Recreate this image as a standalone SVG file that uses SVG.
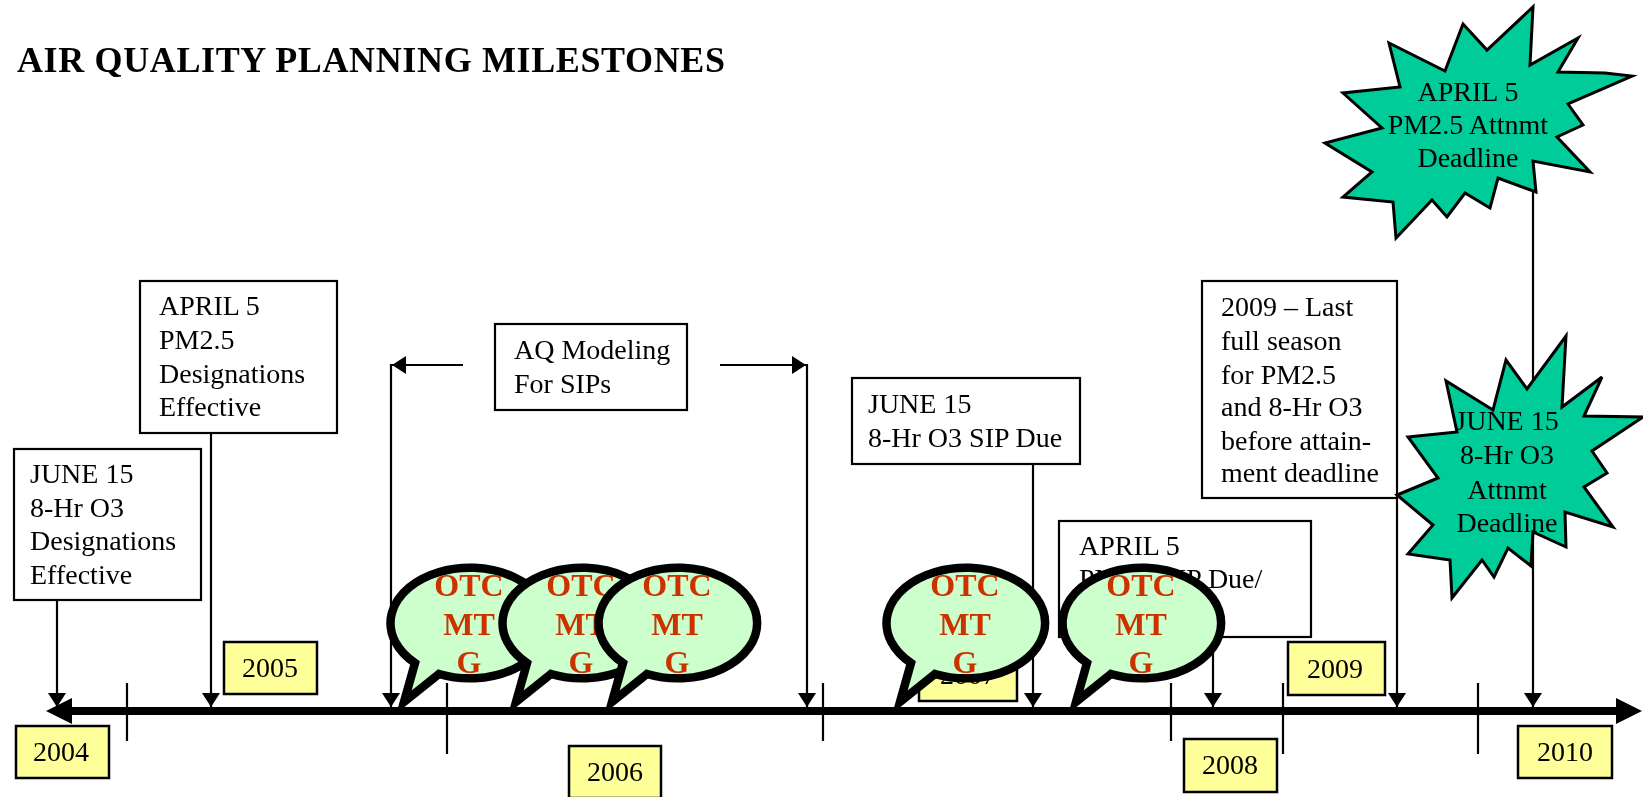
<svg xmlns="http://www.w3.org/2000/svg" width="1643" height="797" viewBox="0 0 1643 797">
<style>
text{font-family:"Liberation Serif","Times New Roman",serif;font-size:28px;fill:#000}
.box{fill:#fff;stroke:#000;stroke-width:2.2}
.yr{fill:#FFFF99;stroke:#000;stroke-width:2.5}
.ctr{text-anchor:middle}
.burst{fill:#00CC99;stroke:#000;stroke-width:3;stroke-linejoin:miter}
.conn{fill:none;stroke:#000;stroke-width:2.2}
.tick{fill:none;stroke:#000;stroke-width:2.2}
.otc{font-weight:bold;font-size:32px;fill:#CC3300;text-anchor:middle}
.title{font-weight:bold;font-size:36px;fill:#000}
</style>
<defs>
<filter id="soft" filterUnits="userSpaceOnUse" x="0" y="0" width="1643" height="797"><feGaussianBlur stdDeviation="0.45"/></filter>
<marker id="ah" markerUnits="userSpaceOnUse" markerWidth="16" markerHeight="20" refX="14" refY="9" orient="auto"><path d="M0,0L14,9L0,18Z" fill="#000"/></marker>
<marker id="big" markerUnits="userSpaceOnUse" markerWidth="28" markerHeight="28" refX="4" refY="14" orient="auto-start-reverse"><path d="M0,1L26,14L0,27Z" fill="#000"/></marker>
<path id="bub" d="M29,100 A79.3,55.3 0 1 1 53,111 L18,139 Z" fill="#CCFFCC" stroke="#000" stroke-width="8.5" stroke-linejoin="miter" stroke-miterlimit="10"/>
</defs>
<g filter="url(#soft)">
<text class="title" x="17" y="72" textLength="708" lengthAdjust="spacing">AIR QUALITY PLANNING MILESTONES</text>
<g id="connectors">
<line class="conn" x1="57" y1="600" x2="57" y2="707" marker-end="url(#ah)"/>
<line class="conn" x1="211" y1="433" x2="211" y2="707" marker-end="url(#ah)"/>
<line class="conn" x1="391" y1="364" x2="391" y2="707" marker-end="url(#ah)"/>
<line class="conn" x1="807" y1="364" x2="807" y2="707" marker-end="url(#ah)"/>
<line class="conn" x1="463" y1="365" x2="392" y2="365" marker-end="url(#ah)"/>
<line class="conn" x1="720" y1="365" x2="806" y2="365" marker-end="url(#ah)"/>
<line class="conn" x1="1033" y1="464" x2="1033" y2="707" marker-end="url(#ah)"/>
<line class="conn" x1="1213" y1="637" x2="1213" y2="707" marker-end="url(#ah)"/>
<line class="conn" x1="1397" y1="498" x2="1397" y2="707" marker-end="url(#ah)"/>
<line class="conn" x1="1533" y1="190" x2="1533" y2="707" marker-end="url(#ah)"/>
<line x1="68" y1="711" x2="1620" y2="711" stroke="#000" stroke-width="8" marker-start="url(#big)" marker-end="url(#big)"/>
<path class="tick" d="M127,683V741M447,683V754M823,683V741M1171,683V741M1283,683V754M1478,683V754"/>
</g>
<g id="box-june-designations"><rect class="box" x="14" y="449" width="187" height="151"/><text x="30" y="483">JUNE 15</text><text x="30" y="517">8-Hr O3</text><text x="30" y="550">Designations</text><text x="30" y="584">Effective</text></g>
<g id="box-april-designations"><rect class="box" x="140" y="281" width="197" height="152"/><text x="159" y="315">APRIL 5</text><text x="159" y="349">PM2.5</text><text x="159" y="383">Designations</text><text x="159" y="416">Effective</text></g>
<g id="box-aq-modeling"><rect class="box" x="495" y="324" width="192" height="86"/><text x="514" y="359">AQ Modeling</text><text x="514" y="393">For SIPs</text></g>
<g id="box-june-sip"><rect class="box" x="852" y="378" width="228" height="86"/><text x="868" y="413">JUNE 15</text><text x="868" y="447">8-Hr O3 SIP Due</text></g>
<g id="box-2009-last"><rect class="box" x="1202" y="281" width="195" height="217"/><text x="1221" y="316">2009 – Last</text><text x="1221" y="350">full season</text><text x="1221" y="384">for PM2.5</text><text x="1221" y="416">and 8-Hr O3</text><text x="1221" y="450">before attain-</text><text x="1221" y="482">ment deadline</text></g>
<g id="box-april-sip"><rect class="box" x="1059" y="521" width="252" height="116"/><text x="1079" y="555">APRIL 5</text><text x="1079" y="588">PM2.5 SIP Due/</text></g>
<g id="year-2004"><rect class="yr" x="16" y="726" width="93" height="52"/><text class="ctr" x="61" y="761">2004</text></g>
<g id="year-2005"><rect class="yr" x="224" y="642" width="93" height="52"/><text class="ctr" x="270" y="677">2005</text></g>
<g id="year-2006"><rect class="yr" x="569" y="746" width="92" height="52"/><text class="ctr" x="615" y="781">2006</text></g>
<g id="year-2007"><rect class="yr" x="919" y="649" width="98" height="52"/><text class="ctr" x="968" y="684">2007</text></g>
<g id="year-2008"><rect class="yr" x="1184" y="739" width="93" height="53"/><text class="ctr" x="1230" y="774">2008</text></g>
<g id="year-2009"><rect class="yr" x="1288" y="642" width="97" height="53"/><text class="ctr" x="1335" y="678">2009</text></g>
<g id="year-2010"><rect class="yr" x="1518" y="726" width="94" height="52"/><text class="ctr" x="1565" y="761">2010</text></g>
<g id="burst-april"><polygon class="burst" points="1533,7 1530,65 1578,38 1558,72 1605,73 1632,76 1568,104 1583,125 1557,137 1590,172 1533,161 1536,192 1498,178 1490,208 1465,193 1447,217 1432,200 1396,238 1393,202 1343,197 1372,172 1325,143 1382,128 1343,93 1400,87 1389,43 1445,71 1463,24 1487,50"/><text class="ctr" x="1468" y="101">APRIL 5</text><text class="ctr" x="1468" y="134">PM2.5 Attnmt</text><text class="ctr" x="1468" y="167">Deadline</text></g>
<g id="burst-june"><polygon class="burst" points="1566,336 1562,407 1602,377 1584,416 1643,417 1592,451 1607,473 1584,487 1613,527 1565,512 1566,547 1533,532 1531,566 1508,548 1494,577 1482,560 1452,598 1450,560 1408,554 1433,525 1397,495 1438,478 1408,437 1457,432 1446,381 1493,410 1506,360 1527,389"/><text class="ctr" x="1507" y="430">JUNE 15</text><text class="ctr" x="1507" y="464">8-Hr O3</text><text class="ctr" x="1507" y="499">Attnmt</text><text class="ctr" x="1507" y="532">Deadline</text></g>
<g id="bubble-1" transform="translate(386,563)"><use href="#bub"/><text class="otc" x="83" y="33">OTC</text><text class="otc" x="83" y="72">MT</text><text class="otc" x="83" y="110">G</text></g>
<g id="bubble-2" transform="translate(498,563)"><use href="#bub"/><text class="otc" x="83" y="33">OTC</text><text class="otc" x="83" y="72">MT</text><text class="otc" x="83" y="110">G</text></g>
<g id="bubble-3" transform="translate(594,563)"><use href="#bub"/><text class="otc" x="83" y="33">OTC</text><text class="otc" x="83" y="72">MT</text><text class="otc" x="83" y="110">G</text></g>
<g id="bubble-4" transform="translate(882,563)"><use href="#bub"/><text class="otc" x="83" y="33">OTC</text><text class="otc" x="83" y="72">MT</text><text class="otc" x="83" y="110">G</text></g>
<g id="bubble-5" transform="translate(1058,563)"><use href="#bub"/><text class="otc" x="83" y="33">OTC</text><text class="otc" x="83" y="72">MT</text><text class="otc" x="83" y="110">G</text></g>
</g>
</svg>
